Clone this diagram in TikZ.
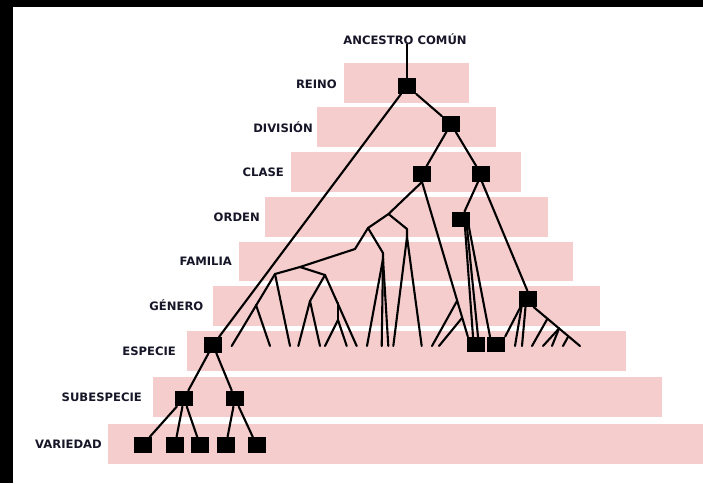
\documentclass[tikz,border=0pt]{standalone}
\usepackage{fontspec}
\setmainfont{DejaVu Sans}
\usetikzlibrary{calc}
\definecolor{band}{RGB}{245,205,205}
\definecolor{ink}{RGB}{22,22,40}
\begin{document}
\begin{tikzpicture}[x=1pt,y=-1pt,
  sq/.style={fill=black,draw=none,minimum width=18pt,minimum height=15.5pt,inner sep=0pt},
  lab/.style={anchor=east,inner sep=0pt,text height=8.4pt,text depth=0pt,text=ink,font=\bfseries\fontsize{11.6}{12}\selectfont},
  br/.style={line width=2.1pt,line cap=round,line join=round},
  bandbox/.style={fill=band,draw=none}]
\useasboundingbox (0,0) rectangle (703,483);
\fill[white] (0,0) rectangle (703,483);
\fill[black] (0,0) rectangle (703,7);
\fill[black] (0,0) rectangle (13,483);
% bands
\fill[bandbox] (344,63) rectangle (469,103);
\fill[bandbox] (317,107) rectangle (496,147);
\fill[bandbox] (291,152) rectangle (521,192);
\fill[bandbox] (265,197) rectangle (548,237);
\fill[bandbox] (239,242) rectangle (573,281);
\fill[bandbox] (213,286) rectangle (600,326);
\fill[bandbox] (187,331) rectangle (626,371);
\fill[bandbox] (153,377) rectangle (662,417);
\fill[bandbox] (108,424) rectangle (703,464);
% labels
\node[lab] (lreino) at (337,84) {REINO};
\node[lab] (ldiv) at (313,128) {DIVISIÓN};
\node[lab] (lclase) at (284,172.5) {CLASE};
\node[lab] (lorden) at (260,217) {ORDEN};
\node[lab] (lfam) at (232,261.5) {FAMILIA};
\node[lab] (lgen) at (203.5,306) {GÉNERO};
\node[lab] (lesp) at (176,351) {ESPECIE};
\node[lab] (lsub) at (142,397) {SUBESPECIE};
\node[lab] (lvar) at (102,444.5) {VARIEDAD};
\node[lab,anchor=center] (anc) at (405,40) {ANCESTRO COMÚN};
% squares
\node[sq] (reino) at (407,86) {};
\node[sq] (div) at (451,124) {};
\node[sq] (cl1) at (422,174) {};
\node[sq] (cl2) at (481,174) {};
\node[sq] (ord) at (460.5,219.5) {};
\node[sq] (gen) at (527.5,299) {};
\node[sq] (es1) at (213,345) {};
\node[sq] (es2) at (476,344.5) {};
\node[sq] (es3) at (496,344.5) {};
\node[sq] (sub1) at (184,398.5) {};
\node[sq] (sub2) at (235,398.5) {};
\node[sq] (v1) at (142.5,445) {};
\node[sq] (v2) at (175,445) {};
\node[sq] (v3) at (200,445) {};
\node[sq] (v4) at (226,445) {};
\node[sq] (v5) at (256.5,445) {};
% junctions
\coordinate (J1) at (388.5,214);
\coordinate (J2) at (368,228);
\coordinate (J3) at (407,229);
\coordinate (J3b) at (407,237);
\coordinate (K) at (355,249);
\coordinate (J4) at (300,267);
\coordinate (J5) at (275,274);
\coordinate (J5a) at (256,305);
\coordinate (J6) at (325,275);
\coordinate (J6a) at (310,301);
\coordinate (J6b) at (338,303);
\coordinate (J6c) at (338,320);
\coordinate (J7) at (383,253);
\coordinate (J7b) at (383,259);
\foreach \n/\x in {a/231.7,b/270,c/290,d/298.3,e/320,f/325,g/346.7,h/356.7,i/367,j/381.7,k/388.3,l/393.3,m/421.7,n/432,o/439,p/515,q/522,r/532,s/543,t/552,u/563,w/580}
  \coordinate (e\n) at (\x,346);
% tree
\draw[br] (reino.north) -- (reino.north |- anc.south);
\draw[br] (reino) -- (div);
\draw[br] (reino) -- (es1);
\draw[br] (div) -- (cl1);
\draw[br] (div) -- (cl2);
\draw[br] ([xshift=-3pt]cl2.south) -- ([xshift=4pt]ord.north);
\draw[br] ([xshift=1pt]cl2.south) -- (gen.north);
% class 1 subtree
\draw[br] (cl1.south) -- (J1);
\draw[br] (J1) -- (J2);
\draw[br] (J1) -- (J3) -- (J3b);
\draw[br] (J2) -- (K) -- (J4);
\draw[br] (J2) -- (J7) -- (J7b);
\draw[br] (J4) -- (J5);
\draw[br] (J4) -- (J6);
\draw[br] (J5) -- (ea);
\draw[br] (J5a) -- (eb);
\draw[br] (J5) -- (ec);
\draw[br] (J6) -- (J6a);
\draw[br] (J6a) -- (ed);
\draw[br] (J6a) -- (ee);
\draw[br] (J6) -- (eh);
\draw[br] (J6b) -- (J6c);
\draw[br] (J6c) -- (ef);
\draw[br] (J6c) -- (eg);
\draw[br] (J7b) -- (ei);
\draw[br] (J7b) -- (ej);
\draw[br] (J7b) -- (ek);
\draw[br] (J3b) -- (el);
\draw[br] (J3b) -- (em);
\draw[br] (cl1.south) -- ([xshift=1pt]es2.north west);
\coordinate (C1) at ($(cl1.south)!0.768!([xshift=1pt]es2.north west)$);
\coordinate (C2) at ($(cl1.south)!0.878!([xshift=1pt]es2.north west)$);
\draw[br] (C1) -- (en);
\draw[br] (C2) -- (eo);
% order
\draw[br] ([xshift=4.5pt]ord.south) -- ([xshift=-3pt]es2.north);
\draw[br] ([xshift=6.5pt]ord.south) -- ([xshift=2pt]es2.north);
\draw[br] ([xshift=8.5pt]ord.south) -- ([xshift=-6pt]es3.north);
% genus broom
\draw[br] ([xshift=-7pt]gen.south) -- (es3.north east);
\draw[br] ([xshift=-6pt]gen.south) -- (ep);
\draw[br] ([xshift=-2pt]gen.south) -- (eq);
\draw[br] ([xshift=6pt]gen.south) -- (ew);
\coordinate (G2) at ($([xshift=6pt]gen.south)!0.3!(ew)$);
\coordinate (G3) at ($([xshift=6pt]gen.south)!0.55!(ew)$);
\coordinate (G4) at ($([xshift=6pt]gen.south)!0.75!(ew)$);
\draw[br] (G2) -- (er);
\draw[br] (G3) -- (es);
\draw[br] (G3) -- (et);
\draw[br] (G4) -- (eu);
% species to variety
\draw[br] (es1) -- (sub1);
\draw[br] (es1) -- (sub2);
\draw[br] (sub1) -- (v1);
\draw[br] (sub1) -- (v2);
\draw[br] (sub1) -- (v3);
\draw[br] (sub2) -- (v4);
\draw[br] (sub2) -- (v5);
\end{tikzpicture}
\end{document}
